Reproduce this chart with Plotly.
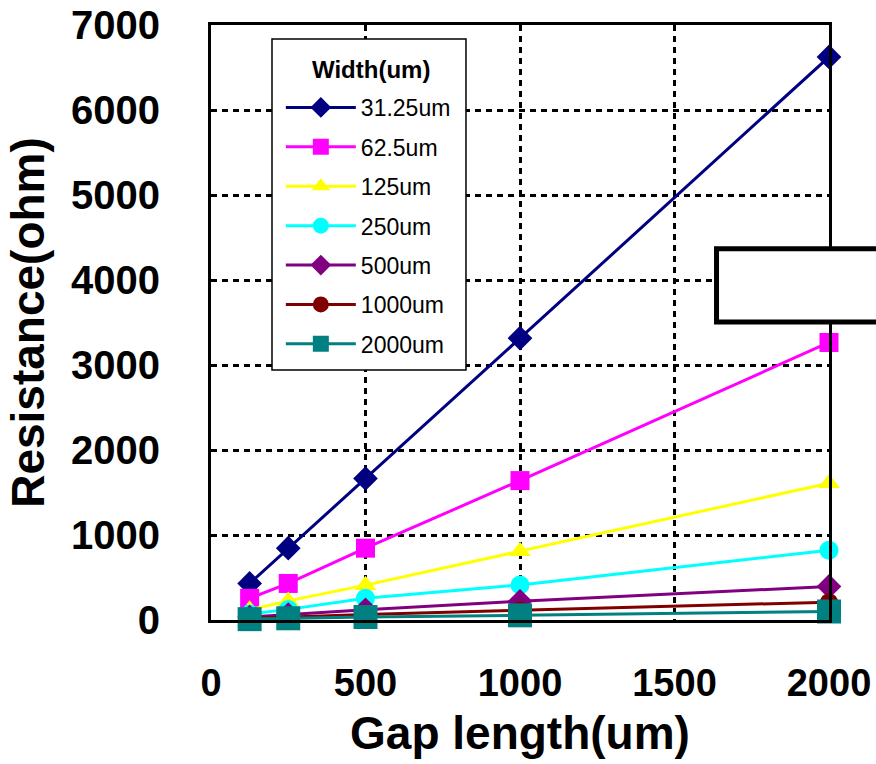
import plotly.graph_objects as go

gap_length = [125, 250, 500, 1000, 2000]
series_names = ["31.25um", "62.5um", "125um", "250um", "500um", "1000um", "2000um"]
r_31 = [430, 845, 1665, 3315, 6625]
r_62 = [255, 430, 845, 1640, 3265]
r_125 = [120, 225, 410, 810, 1610]
r_250 = [70, 125, 255, 412, 820]
r_500 = [35, 65, 120, 220, 395]
r_1000 = [20, 35, 65, 115, 210]
r_2000 = [10, 20, 35, 55, 100]
series_values = [r_31, r_62, r_125, r_250, r_500, r_1000, r_2000]
legend_title = "Width(um)"

colors = ["#000080", "#FF00FF", "#FFFF00", "#00FFFF", "#800080", "#800000", "#008080"]
symbols = ["diamond", "square", "triangle-up", "circle", "diamond", "circle", "square"]
sizes = [19, 19, 19, 19, 19, 18, 24]

FONT = "Liberation Sans, Arial, sans-serif"

fig = go.Figure()
for i, (name, vals) in enumerate(zip(series_names, series_values)):
    fig.add_trace(go.Scatter(
        x=gap_length, y=vals, name=name, mode="lines+markers",
        line=dict(color=colors[i], width=3),
        marker=dict(symbol=symbols[i], size=sizes[i], color=colors[i]),
        cliponaxis=False, legendgroup=f"g{i}",
    ))

grid = dict(showgrid=True, gridcolor="black", gridwidth=3, griddash="6px,5px",
            showline=True, linecolor="black", linewidth=3, mirror=True,
            zeroline=False, ticks="", automargin=False)

fig.update_xaxes(range=[0, 2000], tickvals=[0, 500, 1000, 1500, 2000],
                 ticklabelstandoff=27,
                 tickfont=dict(family=FONT, size=38, color="black", weight="bold"),
                 title=dict(text="Gap length(um)", standoff=15,
                            font=dict(family=FONT, size=46, color="black", weight="bold")),
                 **grid)
fig.update_yaxes(range=[0, 7000], tickvals=list(range(0, 7001, 1000)),
                 ticklabelstandoff=40,
                 tickfont=dict(family=FONT, size=40, color="black", weight="bold"),
                 title=dict(text="Resistance(ohm)", standoff=12,
                            font=dict(family=FONT, size=46, color="black", weight="bold")),
                 **grid)

# legend frame and the empty box at right
fig.add_shape(type="rect", xref="paper", yref="paper",
              x0=0.0987, x1=0.4126, y0=0.4202, y1=0.9765,
              fillcolor="white", line=dict(color="black", width=1.5), layer="above")
fig.add_shape(type="rect", xref="paper", yref="paper",
              x0=0.818, x1=1.1, y0=0.501, y1=0.624,
              fillcolor="white", line=dict(color="black", width=5), layer="above")

fig.add_annotation(text=legend_title, xref="paper", yref="paper",
                   x=0.259, y=0.926, xanchor="center", yanchor="middle",
                   showarrow=False,
                   font=dict(family=FONT, size=24, color="black", weight="bold"))

fig.update_layout(
    width=876, height=764,
    margin=dict(l=211, r=47, t=25, b=144),
    paper_bgcolor="white", plot_bgcolor="white",
    font=dict(family=FONT, color="black"),
    showlegend=True,
    legend=dict(
        x=0.113, y=0.8975, xanchor="left", yanchor="top",
        bgcolor="rgba(0,0,0,0)", borderwidth=0,
        font=dict(family=FONT, size=23, color="black"),
        tracegroupgap=6.5, itemwidth=70,
    ),
)

fig.write_html("out.html")
